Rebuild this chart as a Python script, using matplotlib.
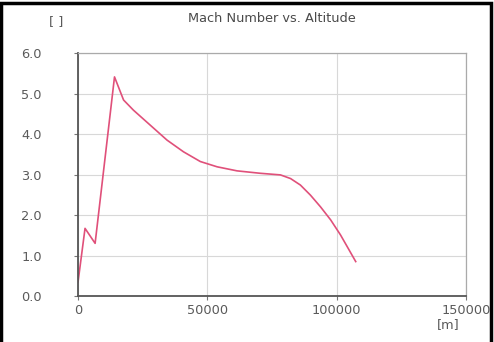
import matplotlib
matplotlib.use("Agg")
from matplotlib import pyplot as plt
from matplotlib.patches import Rectangle

# altitude [m] and Mach number
altitude = [0, 2700, 6600, 14100, 17600, 21400, 27900, 34400, 40800, 47300,
            53800, 61500, 70500, 78300, 82200, 86000, 89900, 93800, 97700,
            101500, 104100, 107400]
mach = [0.35, 1.67, 1.30, 5.41, 4.84, 4.59, 4.22, 3.85, 3.56, 3.32,
        3.19, 3.09, 3.03, 2.99, 2.90, 2.74, 2.49, 2.20, 1.88,
        1.51, 1.22, 0.85]

x_ticks = [0, 50000, 100000, 150000]
y_ticks = [0.0, 1.0, 2.0, 3.0, 4.0, 5.0, 6.0]

text_color = "#5a5a5a"
fsize = 9.3

fig = plt.figure(figsize=(4.94, 3.42), dpi=100)
fig.patch.set_facecolor("white")

rect = Rectangle((0.003, -0.01), 0.991, 1.0, fill=False, edgecolor="black", linewidth=2.5)
rect.set_transform(fig.transFigure)
fig.patches.append(rect)

ax = fig.add_axes([0.158, 0.1345, 0.785, 0.7105])
ax.plot(altitude, mach, color="#e0507a", linewidth=1.2)

ax.set_xlim(0, 150000)
ax.set_ylim(0, 6.0)
ax.set_xticks(x_ticks)
ax.set_xticklabels([str(v) for v in x_ticks])
ax.set_yticks(y_ticks)
ax.set_yticklabels([f"{v:.1f}" for v in y_ticks], ha="left")
ax.grid(True, color="#d8d8d8", linewidth=0.8)
ax.set_axisbelow(True)

for side in ["left", "bottom"]:
    ax.spines[side].set_color("#555555")
    ax.spines[side].set_linewidth(1.3)
for side in ["top", "right"]:
    ax.spines[side].set_color("#aaaaaa")
    ax.spines[side].set_linewidth(0.9)

ax.tick_params(axis="y", direction="out", length=3, color="#777777", labelsize=fsize,
               labelcolor=text_color, pad=38)
ax.tick_params(axis="x", direction="out", length=3, color="#777777", labelsize=fsize,
               labelcolor=text_color, pad=3)

fig.text(0.551, 0.945, "Mach Number vs. Altitude", ha="center", va="center",
         fontsize=fsize, color="#4a4a4a")
fig.text(0.113, 0.937, "[ ]", ha="center", va="center", fontsize=fsize, color=text_color)
fig.text(0.907, 0.05, "[m]", ha="center", va="center", fontsize=fsize, color=text_color)

fig.savefig("out.png", dpi=100)
